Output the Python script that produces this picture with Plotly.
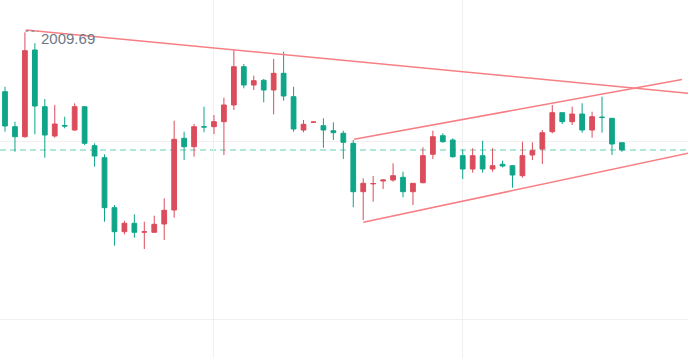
import plotly.graph_objects as go

# ---- data (bar index, open, high, low, close) ----
bar_index = list(range(63))
open_ = [2003.75, 2000.25, 1999.25, 2007.92, 2002.25, 1999.32, 2000.37, 1999.92, 2002.25, 1998.35,
         1997.15, 1992.15, 1989.75, 1990.59, 1989.70, 1989.69, 1990.52, 1991.92, 1999.09, 1998.25,
         2000.25, 2000.25, 2000.75, 2002.42, 2006.25, 2004.42, 2004.89, 2003.92, 2005.59, 2003.25,
         1999.92, 2000.70, 2000.35, 1999.85, 1999.59, 1998.59, 1993.75, 1994.53, 1994.82, 1994.92,
         1995.19, 1993.75, 1994.65, 1997.49, 1999.35, 1998.92, 1997.35, 1996.02, 1997.35, 1996.02,
         1996.49, 1996.35, 1995.35, 1997.42, 1998.02, 1999.75, 2001.65, 2000.75, 2001.52, 1999.92,
         2001.20, 2001.09, 1998.65]
high = [2004.25, 2000.75, 2009.69, 2008.59, 2003.02, 2002.42, 2001.25, 2002.59, 2002.25, 1998.59,
        1997.49, 1992.42, 1990.85, 1991.49, 1990.75, 1991.35, 1993.09, 2000.85, 1999.75, 2000.52,
        2002.25, 2001.42, 2003.15, 2007.92, 2006.52, 2005.35, 2005.02, 2007.02, 2007.75, 2004.25,
        2000.92, 2000.74, 2001.09, 2000.69, 1999.85, 1998.92, 1995.09, 1995.32, 1994.99, 1996.59,
        1995.75, 1994.59, 1998.19, 1999.85, 1999.59, 1999.09, 1997.99, 1998.09, 1998.85, 1998.09,
        1996.85, 1996.40, 1998.75, 1998.69, 1999.92, 2002.42, 2001.65, 2002.25, 2002.59, 2001.75,
        2003.25, 2001.09, 1998.65]
low = [1999.75, 1997.75, 1999.15, 1999.49, 1997.15, 1999.15, 2000.09, 1999.85, 1998.42, 1996.25,
       1990.75, 1988.35, 1989.49, 1989.15, 1988.02, 1989.69, 1988.92, 1991.15, 1996.92, 1997.25,
       1999.69, 1999.52, 1997.42, 2001.92, 2004.09, 2003.92, 2002.69, 2001.49, 2002.85, 1999.75,
       1999.69, 2000.68, 1998.15, 1998.92, 1997.02, 1992.19, 1990.92, 1992.75, 1994.02, 1994.75,
       1993.19, 1992.42, 1994.59, 1997.02, 1998.65, 1997.15, 1995.02, 1995.65, 1995.65, 1995.75,
       1996.19, 1994.15, 1995.15, 1996.92, 1996.52, 1999.59, 2000.52, 2000.42, 1999.65, 1999.15,
       1999.65, 1997.42, 1997.75]
close = [2000.32, 1999.25, 2007.85, 2002.32, 1999.42, 2000.52, 2000.32, 2002.25, 1998.59, 1997.32,
         1992.15, 1989.75, 1990.59, 1989.69, 1989.74, 1990.49, 1991.89, 1998.99, 1998.25, 2000.25,
         2000.22, 2000.75, 2002.42, 2006.25, 2004.42, 2004.85, 2003.92, 2005.59, 2003.32, 2000.02,
         2000.49, 2000.72, 1999.92, 1999.65, 1998.69, 1993.75, 1994.59, 1994.57, 1994.92, 1995.35,
         1993.75, 1994.59, 1997.35, 1999.25, 1998.75, 1997.25, 1996.02, 1997.35, 1996.02, 1996.35,
         1996.32, 1995.42, 1997.35, 1997.85, 1999.65, 2001.65, 2000.75, 2001.52, 1999.92, 2001.25,
         2001.18, 1998.52, 1997.92]

high_label = "2009.69"
high_value = 2009.69
high_bar = 2

# trend lines: (x0, y0, x1, y1) in bar index / price
trend_lines = [
    (2.1, 2009.92, 70.0, 2003.46),    # falling resistance
    (35.08, 1998.99, 68.04, 2004.97), # channel upper
    (36.01, 1990.69, 70.0, 1997.88),  # channel lower
]

# gridline positions (no labels shown)
x_grid = [21, 46]
y_grid = [1980.97, 1998.77]

UP = "#DB4D5C"
DOWN = "#0FA589"

fig = go.Figure(go.Candlestick(
    x=bar_index, open=open_, high=high, low=low, close=close,
    increasing=dict(line=dict(color=UP, width=1), fillcolor=UP),
    decreasing=dict(line=dict(color=DOWN, width=1), fillcolor=DOWN),
    whiskerwidth=0, showlegend=False, hoverinfo="skip",
))

# last price dashed line
fig.add_shape(type="line", xref="paper", x0=0, x1=1, yref="y",
              y0=close[-1], y1=close[-1],
              line=dict(color="#62CFB2", width=1, dash="6px,4px"), layer="below")

for (x0, y0, x1, y1) in trend_lines:
    fig.add_shape(type="line", xref="x", yref="y", x0=x0, y0=y0, x1=x1, y1=y1,
                  line=dict(color="#F77F84", width=1.5))

# high marker: dotted leader + label
fig.add_shape(type="line", xref="x", yref="y", x0=high_bar + 0.05, x1=high_bar + 1.3,
              y0=high_value + 0.12, y1=high_value + 0.12,
              line=dict(color="#6E7785", width=1, dash="dot"))
fig.add_annotation(x=high_bar + 1.4, y=high_value - 0.6, xref="x", yref="y",
                   text=high_label, showarrow=False, xanchor="left", yanchor="middle",
                   font=dict(family="Liberation Sans, Arial", size=15, color="#6E7785"))

fig.update_layout(
    width=688, height=358,
    margin=dict(l=0, r=0, t=0, b=0),
    paper_bgcolor="white", plot_bgcolor="white",
    boxgap=0.32,
    xaxis=dict(range=[-0.503, 68.64], rangeslider=dict(visible=False),
               tickmode="array", tickvals=x_grid, showticklabels=False,
               showgrid=True, gridcolor="#F0F0F0", gridwidth=1,
               zeroline=False, showline=False, ticks=""),
    yaxis=dict(range=[1977.12, 2012.92],
               tickmode="array", tickvals=y_grid, showticklabels=False,
               showgrid=True, gridcolor="#F0F0F0", gridwidth=1,
               zeroline=False, showline=False, ticks=""),
)

fig.write_html("out.html", config={"displayModeBar": False},
               post_script="document.body.style.margin='0';document.body.style.overflow='hidden';")
